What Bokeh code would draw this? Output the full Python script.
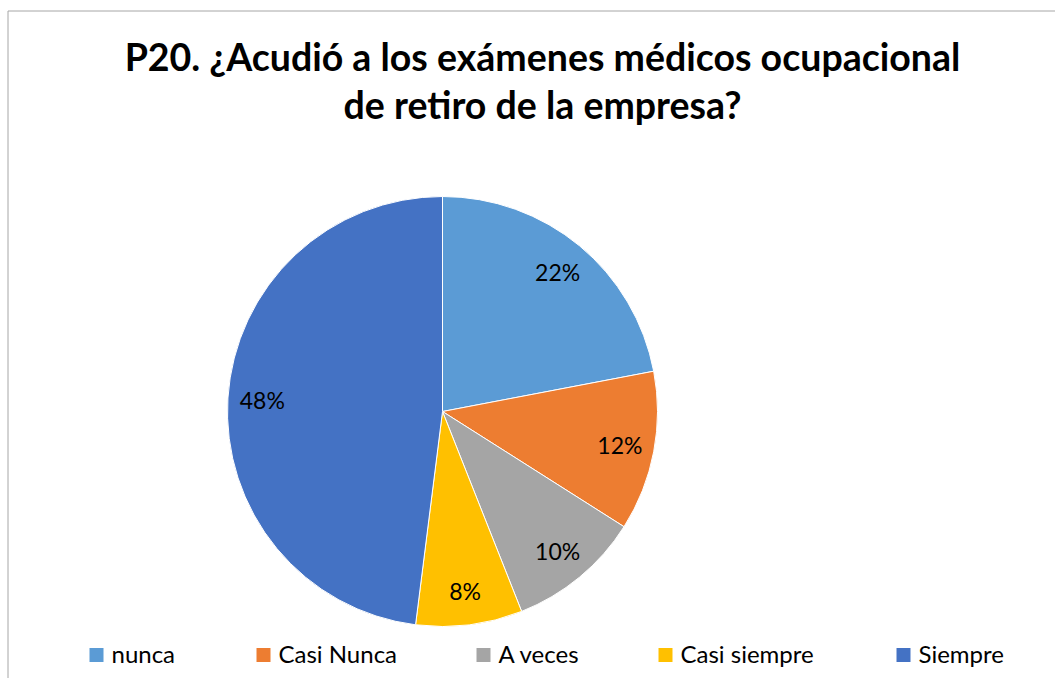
import numpy as np
from bokeh.plotting import figure
from bokeh.models import Range1d, ColumnDataSource
from bokeh.core.properties import value
from bokeh.embed import file_html
from bokeh.resources import INLINE

# ---- data ----
categories = ["nunca", "Casi Nunca", "A veces", "Casi siempre", "Siempre"]
percent = [22, 12, 10, 8, 48]
colors = ["#5B9BD5", "#ED7D31", "#A5A5A5", "#FFC000", "#4472C4"]
title_lines = ["P20. ¿Acudió a los exámenes médicos ocupacional", "de retiro de la empresa?"]

# ---- layout (data coords: x = px, y = H - px) ----
W, H = 1055, 678
FONT = "Lato"
cx, cy, R = 442, H - 411, 215
legend_x = [89, 256, 476, 658, 896]
legend_y = H - 654.5

p = figure(width=W, height=H, output_backend="svg", toolbar_location=None,
           x_range=Range1d(0, W), y_range=Range1d(0, H),
           min_border=0, min_border_left=0, min_border_right=0,
           min_border_top=0, min_border_bottom=0)
p.axis.visible = False
p.grid.visible = False
p.outline_line_color = None
p.background_fill_color = "white"
p.border_fill_color = "white"

# chart border
p.quad(left=[7.5], right=[1100], top=[H - 10.5], bottom=[-20],
       fill_color=None, line_color="#A6A6A6", line_width=1)

vals = np.array(percent, dtype=float)
frac = vals / vals.sum()
cum = np.concatenate([[0], np.cumsum(frac)])
start_cw = np.pi / 2 - cum[:-1] * 2 * np.pi
end_cw = np.pi / 2 - cum[1:] * 2 * np.pi
mid = (start_cw + end_cw) / 2

src = ColumnDataSource(dict(start=end_cw, end=start_cw, color=colors, cat=categories))
p.wedge(x=cx, y=cy, radius=R, start_angle="start", end_angle="end",
        direction="anticlock", fill_color="color", line_color="white",
        line_width=1, source=src)

lr = 0.84 * R
lab = ColumnDataSource(dict(x=cx + lr * np.cos(mid), y=cy + lr * np.sin(mid),
                            t=[f"{v:.0f}%" for v in vals]))
p.text(x="x", y="y", text="t", source=lab, text_font=value(FONT),
       text_font_size=value("23px"), text_align="center",
       text_baseline="middle", text_color="black")

# title
p.text(x=[542, 542], y=[H - 56, H - 104], text=title_lines,
       text_font=value(FONT), text_font_size=value("37.5px"),
       text_font_style="bold", text_align="center", text_baseline="middle",
       text_color="black")

# legend
p.rect(x=[lx + 7 for lx in legend_x], y=[legend_y] * 5, width=14, height=14,
       fill_color=colors, line_color=None)
p.text(x=[lx + 22 for lx in legend_x], y=[legend_y + 2] * 5, text=categories,
       text_font=value(FONT), text_font_size=value("24px"), text_align="left",
       text_baseline="middle", text_color="black")

open("out.html", "w").write(file_html(p, INLINE))
